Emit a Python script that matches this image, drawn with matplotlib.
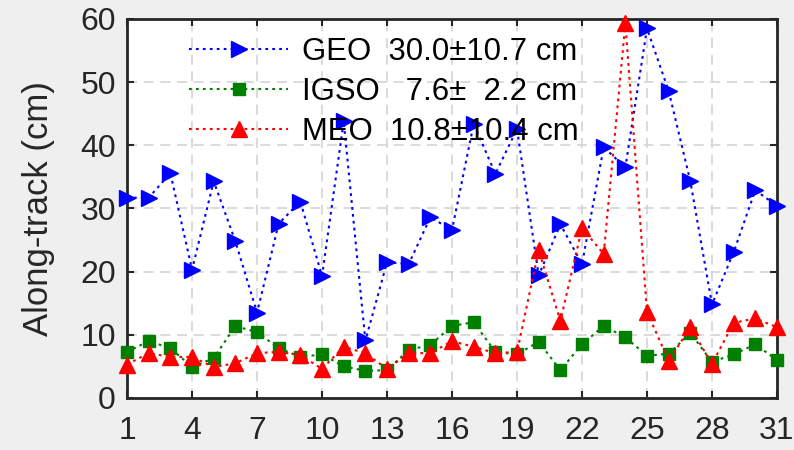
import matplotlib
matplotlib.use("Agg")
import matplotlib.pyplot as plt

days = list(range(1, 32))
geo = [31.7, 31.7, 35.6, 20.3, 34.3, 24.8, 13.5, 27.6, 31.1, 19.3, 43.8, 9.1, 21.5, 21.2, 28.6,
       26.6, 43.4, 35.5, 42.6, 19.4, 27.5, 21.2, 39.7, 36.5, 58.5, 48.6, 34.3, 14.8, 23.1, 32.9, 30.4]
igso = [7.3, 9.0, 7.9, 4.9, 6.3, 11.4, 10.4, 7.9, 6.5, 6.9, 5.0, 4.3, 4.4, 7.6, 8.4,
        11.4, 12.0, 7.3, 6.9, 8.9, 4.4, 8.5, 11.4, 9.6, 6.7, 7.0, 10.3, 5.7, 6.9, 8.5, 6.0]
meo = [5.3, 7.1, 6.5, 6.5, 4.9, 5.5, 7.1, 7.3, 6.8, 4.6, 8.1, 7.1, 4.6, 7.1, 7.1,
       9.0, 8.1, 7.1, 7.3, 23.4, 12.2, 26.9, 22.8, 59.3, 13.6, 5.9, 11.2, 5.4, 11.9, 12.6, 11.2]
labels = ["GEO  30.0\u00b110.7 cm", "IGSO   7.6\u00b1  2.2 cm", "MEO  10.8\u00b110.4 cm"]
xticks = list(range(1, 32, 3))
yticks = list(range(0, 61, 10))
ylabel = "Along-track (cm)"

plt.rcParams['font.family'] = ['Liberation Sans', 'DejaVu Sans']

fig = plt.figure(figsize=(7.94, 4.5), dpi=100, facecolor='#efefef')
ax = fig.add_axes([0.16, 0.1156, 0.8186, 0.8422])
ax.set_facecolor('white')

dash = (0, (1.33, 2.0))
ax.plot(days, geo, linestyle=dash, lw=1.5, color='blue', marker='>', ms=11.5,
        mec='blue', mfc='blue', clip_on=False, label=labels[0], zorder=3)
ax.plot(days, igso, linestyle=dash, lw=1.5, color='#008000', marker='s', ms=8.5,
        mec='#008000', mfc='#008000', clip_on=False, label=labels[1], zorder=4)
ax.plot(days, meo, linestyle=dash, lw=1.5, color='red', marker='^', ms=11.5,
        mec='red', mfc='red', clip_on=False, label=labels[2], zorder=5)

ax.set_xlim(1, 31)
ax.set_ylim(0, 60)
ax.set_xticks(xticks)
ax.set_yticks(yticks)
ax.grid(True, color='#d4d4d4', linestyle=(0, (6, 4)), lw=1.2, zorder=0)
ax.set_axisbelow(True)
ax.tick_params(direction='in', length=5, width=1.5, top=True, right=True,
               labelsize=23, colors='#262626')
ax.tick_params(axis='x', pad=13)
ax.tick_params(axis='y', pad=8)
for s in ax.spines.values():
    s.set_linewidth(2)
    s.set_color('#262626')
ax.set_ylabel(ylabel, fontsize=25, color='#262626', labelpad=18)

leg = ax.legend(loc='upper left', bbox_to_anchor=(0.095, 0.952), frameon=False,
                fontsize=22.4, handlelength=3.2, handletextpad=0.45, labelspacing=0.32,
                borderpad=0, borderaxespad=0)
for t in leg.get_texts():
    t.set_color('black')

fig.savefig('out.png', dpi=100, facecolor=fig.get_facecolor())
